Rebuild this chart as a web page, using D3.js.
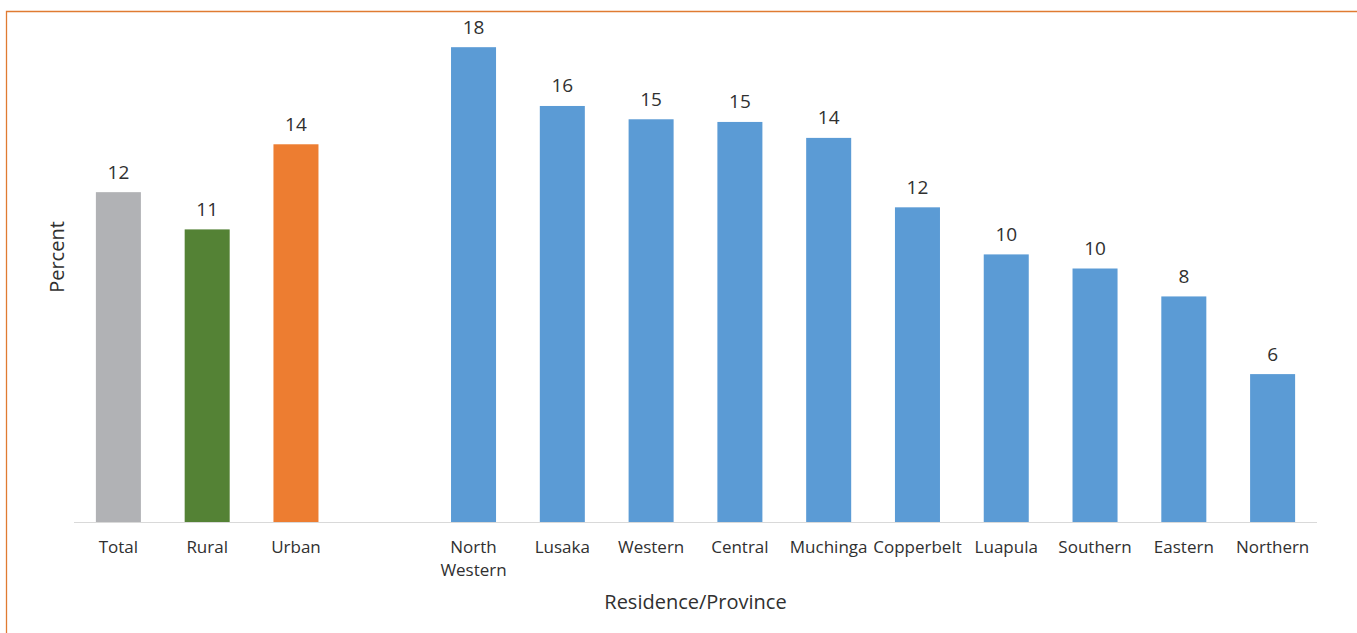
<!DOCTYPE html>
<html>
<head>
<meta charset="utf-8">
<script src="https://cdn.jsdelivr.net/npm/d3@7"></script>
<style>
  html, body { margin: 0; padding: 0; background: #fff; }
  svg { display: block; }
  text { font-family: "Open Sans", "Noto Sans", sans-serif; fill: #303030; }
</style>
</head>
<body>
<svg id="chart" width="1357" height="633"></svg>
<script>
// ---- data ----
const residenceCategories = ["Total", "Rural", "Urban"];
const residenceValues = [12.4, 11.0, 14.2];
const residenceColors = ["#b1b2b5", "#548235", "#ed7d31"];
const provinceCategories = ["North Western", "Lusaka", "Western", "Central", "Muchinga",
  "Copperbelt", "Luapula", "Southern", "Eastern", "Northern"];
const provinceValues = [17.85, 15.64, 15.14, 15.04, 14.44, 11.83, 10.06, 9.53, 8.48, 5.56];
const provinceColor = "#5b9bd5";
const gapKey = "__gap__";
const yAxisTitle = "Percent";
const xAxisTitle = "Residence/Province";

// ---- layout ----
const svg = d3.select("#chart");
const W = 1357, H = 633;
const plot = { left: 74, right: 1317, bottom: 522 };

const rows = residenceCategories.map((c, i) => ({ cat: c, value: residenceValues[i], color: residenceColors[i] }))
  .concat(provinceCategories.map((c, i) => ({ cat: c, value: provinceValues[i], color: provinceColor })));

const domain = residenceCategories.concat([gapKey], provinceCategories);
const x = d3.scaleBand().domain(domain).range([plot.left, plot.right])
  .paddingInner(0.493).paddingOuter(0.2465);
const y = d3.scaleLinear().domain([0, 20]).range([plot.bottom, plot.bottom - 20 * 26.6]);

// frame (orange border)
svg.append("path")
  .attr("d", `M6.5,${H + 2} V11.5 H${W + 2}`)
  .attr("fill", "none").attr("stroke", "#e07b32").attr("stroke-width", 1.3);

// bars
svg.append("g").selectAll("rect").data(rows).join("rect")
  .attr("x", d => x(d.cat))
  .attr("width", x.bandwidth())
  .attr("y", d => y(d.value))
  .attr("height", d => y(0) - y(d.value))
  .attr("fill", d => d.color);

// baseline
svg.append("line")
  .attr("x1", plot.left).attr("x2", plot.right)
  .attr("y1", plot.bottom + 0.5).attr("y2", plot.bottom + 0.5)
  .attr("stroke", "#d9d9d9").attr("stroke-width", 1.2);

// value labels
const fmt = d3.format(".0f");
svg.append("g").selectAll("text").data(rows).join("text")
  .attr("x", d => x(d.cat) + x.bandwidth() / 2)
  .attr("y", d => y(d.value) - 13.5)
  .attr("text-anchor", "middle")
  .style("font-size", "19px")
  .text(d => fmt(d.value));

// x axis
const xAxis = d3.axisBottom(x).tickSize(0).tickPadding(0)
  .tickFormat(d => d === gapKey ? "" : d);
const gx = svg.append("g").attr("transform", `translate(0,${plot.bottom})`).call(xAxis);
gx.select(".domain").remove();
gx.selectAll("text")
  .style("font-size", "17px").style("font-family", null).attr("fill", null)
  .attr("dy", null).attr("y", 31)
  .each(function (d) {
    const t = d3.select(this);
    const label = d === gapKey ? "" : d;
    const words = label.split(" ");
    if (words.length > 1 && this.getComputedTextLength() > x.step()) {
      t.text(null);
      words.forEach((w, i) => {
        t.append("tspan").attr("x", 0).attr("y", 31 + i * 23.4).text(w);
      });
    }
  });

// axis titles
svg.append("text")
  .attr("x", (plot.left + plot.right) / 2).attr("y", 609)
  .attr("text-anchor", "middle").style("font-size", "20px")
  .text(xAxisTitle);
svg.append("text")
  .attr("transform", "translate(63.5,257) rotate(-90)")
  .attr("text-anchor", "middle").style("font-size", "20px")
  .text(yAxisTitle);
</script>
</body>
</html>
